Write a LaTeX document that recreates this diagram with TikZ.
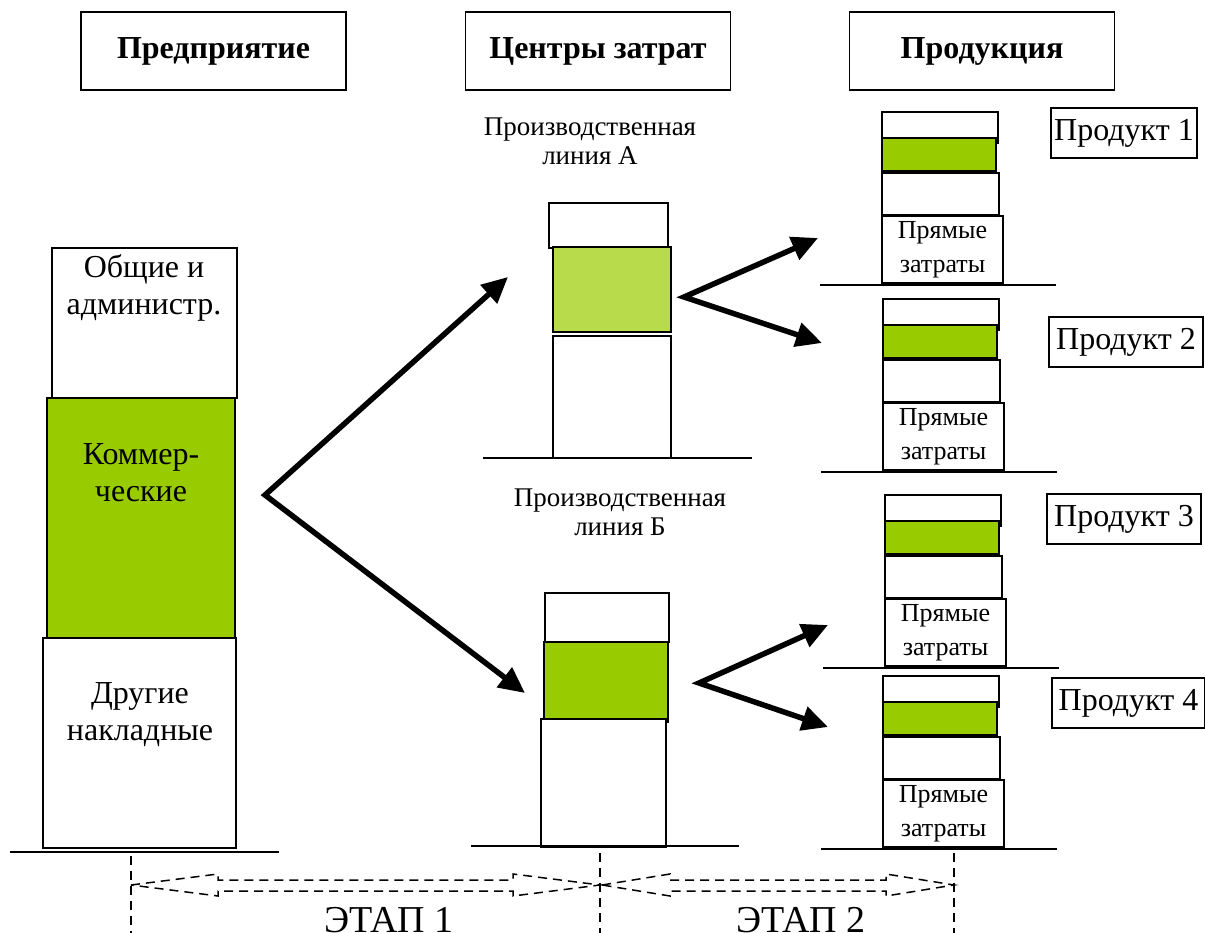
\documentclass[tikz,border=0pt]{standalone}
\usepackage{fontspec}
\setmainfont{Liberation Serif}
\usetikzlibrary{arrows.meta}
\definecolor{kgreen}{HTML}{99CC00}
\definecolor{lgreen}{HTML}{B8DB4C}
\def\wbox{\draw[line width=1.5pt,fill=white]}
\def\gbox{\draw[line width=1.5pt,fill=kgreen]}
\def\bigarr{\draw[line width=5.5pt,{Triangle[length=26pt,width=24pt]}-{Triangle[length=26pt,width=24pt]}]}
\def\dvline{\draw[line width=1.3pt,dash pattern=on 9pt off 6pt]}
\def\floor{\draw[line width=1.5pt]}
\newcommand\stagearrow[3]{\draw[line width=1.5pt,dash pattern=on 9pt off 6pt]
  (#1,885) -- (#1+#3,874) -- (#1+#3,880) -- (#2-#3,880) -- (#2-#3,874) -- (#2,885)
  -- (#2-#3,896) -- (#2-#3,891) -- (#1+#3,891) -- (#1+#3,896) -- cycle;}

\begin{document}
\begin{tikzpicture}[x=1pt,y=-1pt,
    txt/.style={font=\fontsize{32}{37}\selectfont,align=center,inner sep=0},
    linelbl/.style={font=\fontsize{27}{29}\selectfont,align=center,inner sep=0},
    direct/.style={font=\fontsize{26}{34}\selectfont,align=center,inner sep=0},
    hdr/.style={draw,line width=1.8pt,font=\bfseries\fontsize{32}{37}\selectfont,
                minimum width=265pt,minimum height=78pt,inner sep=0},
    prodlbl/.style={draw,line width=1.5pt,font=\fontsize{32}{37}\selectfont,
                minimum height=50pt,inner sep=0},
    stage/.style={font=\fontsize{38}{40}\selectfont,anchor=base,inner sep=0}]
  \useasboundingbox (0,0) rectangle (1205,933);

  % headers
  \node[hdr] (hent) at (213.5,51) {Предприятие};
  \node[hdr] (hcen) at (598,51) {Центры затрат};
  \node[hdr] (hprod) at (982,51) {Продукция};

  % enterprise column
  \wbox (52,248) rectangle (237,398);
  \gbox (47,398) rectangle (235,638);
  \wbox (43,638) rectangle (236,848);
  \floor (10,852) -- (279,852);
  \node[txt] (gen) at (144,288) {Общие и\\администр.};
  \node[txt] (com) at (141,473) {Коммер-\\ческие};
  \node[txt] (oth) at (140,715) {Другие\\накладные};

  % production line A
  \node[linelbl] (lna) at (590,141) {Производственная\\линия А};
  \wbox (549,203) rectangle (668,248);
  \draw[line width=1.5pt,fill=lgreen] (553,247) rectangle (671,332);
  \wbox (553,336) rectangle (671,458);
  \floor (483,458) -- (752,458);

  % production line B
  \node[linelbl] (lnb) at (620,512) {Производственная\\линия Б};
  \wbox (545,593) rectangle (669,642);
  \gbox (544,642) rectangle (668,722);
  \wbox (541,719) rectangle (666,847);
  \floor (471,846) -- (739,846);

  % products
  \foreach \b/\dx/\n in {285/0/1,472/1/2,668/3/3,849/1/4}{
    \wbox (882+\dx,\b-173) rectangle (998+\dx,\b-142);
    \gbox (882+\dx,\b-147) rectangle (996+\dx,\b-114);
    \wbox (882+\dx,\b-112) rectangle (999+\dx,\b-70);
    \wbox (882+\dx,\b-69) rectangle (1003+\dx,\b-2);
    \node[direct] (pz\n) at (942.5+\dx,\b-35) {Прямые\\затраты};
    \floor (820+\dx,\b) -- (1056+\dx,\b);
  }
  \node[prodlbl,minimum width=146pt] (p1) at (1124,133) {Продукт 1};
  \node[prodlbl,minimum width=154pt] (p2) at (1126,342) {Продукт 2};
  \node[prodlbl,minimum width=154pt] (p3) at (1124,519) {Продукт 3};
  \node[prodlbl,minimum width=153pt] (p4) at (1128.5,703) {Продукт 4};

  % arrows
  \coordinate (fk) at (265,495);
  \coordinate (ta) at (508,277);
  \coordinate (tb) at (525,693);
  \coordinate (fa) at (684,297);
  \coordinate (fa1) at (818,238);
  \coordinate (fa2) at (822,343);
  \coordinate (fb) at (699,683);
  \coordinate (fb1) at (828,625);
  \coordinate (fb2) at (828,727);
  \bigarr (ta) -- (fk) -- (tb);
  \bigarr (fa1) -- (fa) -- (fa2);
  \bigarr (fb1) -- (fb) -- (fb2);

  % stages
  \dvline (131,856) -- (131,933);
  \dvline (600,853) -- (600,933);
  \dvline (954,853) -- (954,933);
  \stagearrow{131}{600}{87}
  \stagearrow{602}{954}{68}
  \node[stage] (st1) at (389,932) {ЭТАП 1};
  \node[stage] (st2) at (801,932) {ЭТАП 2};
\end{tikzpicture}
\end{document}
